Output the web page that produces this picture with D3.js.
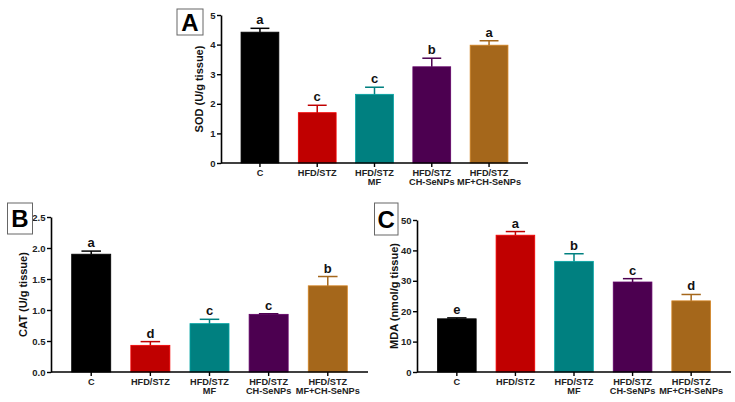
<!DOCTYPE html>
<html>
<head>
<meta charset="utf-8">
<script src="https://cdn.jsdelivr.net/npm/d3@7"></script>
<style>
  body { margin: 0; background: #fff; }
  svg { display: block; font-family: "Liberation Sans", Arial, sans-serif; font-weight: bold; }
</style>
</head>
<body>
<svg width="735" height="402"></svg>
<script>
// group names (two lines each)
const groups = [["C"], ["HFD/STZ"], ["HFD/STZ", "MF"], ["HFD/STZ", "CH-SeNPs"], ["HFD/STZ", "MF+CH-SeNPs"]];
const colors = ["#000000", "#c00000", "#008080", "#4c0050", "#a5671b"];

// Panel A: SOD
const sodValues = [4.42, 1.70, 2.32, 3.25, 3.98];
const sodErrors = [0.13, 0.25, 0.24, 0.29, 0.15];
const sodLetters = ["a", "c", "c", "b", "a"];
const sodTicks = [0, 1, 2, 3, 4, 5];

// Panel B: CAT
const catValues = [1.90, 0.43, 0.78, 0.93, 1.39];
const catErrors = [0.05, 0.06, 0.07, 0.01, 0.15];
const catLetters = ["a", "d", "c", "c", "b"];
const catTicks = [0, 0.5, 1.0, 1.5, 2.0, 2.5];

// Panel C: MDA
const mdaValues = [17.5, 45.0, 36.4, 29.6, 23.4];
const mdaErrors = [0.3, 1.2, 2.5, 1.1, 2.1];
const mdaLetters = ["e", "a", "b", "c", "d"];
const mdaTicks = [0, 10, 20, 30, 40, 50];

const svg = d3.select("svg");

function drawPanel(p) {
  const g = svg.append("g");
  const idx = d3.range(groups.length);

  const x = d3.scaleBand()
    .domain(idx)
    .range([p.left, p.right])
    .paddingInner(0.34)
    .paddingOuter(0.35);

  const y = d3.scaleLinear()
    .domain([0, p.ticks[p.ticks.length - 1]])
    .range([p.bottom, p.top]);

  // bars
  g.selectAll("rect.bar")
    .data(idx)
    .enter()
    .append("rect")
    .attr("x", (i) => x(i))
    .attr("y", (i) => y(p.values[i]))
    .attr("width", x.bandwidth())
    .attr("height", (i) => y(0) - y(p.values[i]))
    .attr("fill", (i) => colors[i])
    .attr("stroke", (i) => d3.color(colors[i]).brighter(0.7))
    .attr("stroke-width", 0.8);

  // error bars (upper half only)
  const err = g.append("g").attr("stroke-width", 1.5);
  err.selectAll("line.v")
    .data(idx)
    .enter()
    .append("line")
    .attr("x1", (i) => x(i) + x.bandwidth() / 2)
    .attr("x2", (i) => x(i) + x.bandwidth() / 2)
    .attr("y1", (i) => y(p.values[i]))
    .attr("y2", (i) => y(p.values[i] + p.errors[i]))
    .attr("stroke", (i) => colors[i]);
  err.selectAll("line.cap")
    .data(idx)
    .enter()
    .append("line")
    .attr("x1", (i) => x(i) + x.bandwidth() * 0.25)
    .attr("x2", (i) => x(i) + x.bandwidth() * 0.75)
    .attr("y1", (i) => y(p.values[i] + p.errors[i]))
    .attr("y2", (i) => y(p.values[i] + p.errors[i]))
    .attr("stroke", (i) => colors[i]);

  // significance letters
  g.selectAll("text.sig")
    .data(idx)
    .enter()
    .append("text")
    .attr("x", (i) => x(i) + x.bandwidth() / 2)
    .attr("y", (i) => y(p.values[i] + p.errors[i]) - 4)
    .attr("text-anchor", "middle")
    .attr("font-size", 13)
    .attr("fill", "#111")
    .text((i) => p.letters[i]);

  // y axis
  const yAxis = g.append("g")
    .attr("transform", `translate(${p.left},0)`)
    .call(d3.axisLeft(y).tickValues(p.ticks).tickFormat(d3.format(p.fmt)).tickSize(4).tickSizeOuter(0).tickPadding(1.5));
  yAxis.select(".domain").attr("stroke-width", 1.6);
  yAxis.selectAll(".tick line").attr("stroke-width", 1.4);
  yAxis.selectAll(".tick text").attr("font-size", 9.5).attr("font-family", null).attr("fill", "#222");

  // x axis
  const xAxis = g.append("g")
    .attr("transform", `translate(0,${p.bottom})`)
    .call(d3.axisBottom(x).tickSize(4).tickSizeOuter(0).tickFormat(""));
  xAxis.select(".domain").attr("stroke-width", 1.6)
    .attr("d", `M${p.left},0H${p.right}`);
  xAxis.selectAll(".tick line").attr("stroke-width", 1.4);

  // category labels
  const lab = g.selectAll("text.cat")
    .data(idx)
    .enter()
    .append("text")
    .attr("text-anchor", "middle")
    .attr("font-size", 9.2)
    .attr("fill", "#222")
    .attr("x", (i) => x(i) + x.bandwidth() / 2)
    .attr("y", p.bottom + 13);
  lab.selectAll("tspan")
    .data((i) => groups[i].map((t) => ({ t, x: x(i) + x.bandwidth() / 2 })))
    .enter()
    .append("tspan")
    .attr("x", (d) => d.x)
    .attr("dy", (d, j) => (j === 0 ? 0 : 9))
    .text((d) => d.t);

  // y axis title
  g.append("text")
    .attr("transform", `translate(${p.titleX},${(p.top + p.bottom) / 2}) rotate(-90)`)
    .attr("text-anchor", "middle")
    .attr("font-size", 11)
    .attr("fill", "#111")
    .text(p.title);

  // panel label box
  g.append("rect")
    .attr("x", p.box[0])
    .attr("y", p.box[1])
    .attr("width", p.box[2])
    .attr("height", p.box[3])
    .attr("fill", "#fff")
    .attr("stroke", "#666")
    .attr("stroke-width", 1);
  g.append("text")
    .attr("x", p.box[0] + p.box[2] / 2)
    .attr("y", p.box[1] + p.box[3] / 2 + 8.5)
    .attr("text-anchor", "middle")
    .attr("font-size", 24)
    .attr("fill", "#000")
    .text(p.name);
}

drawPanel({
  name: "A", title: "SOD (U/g tissue)",
  values: sodValues, errors: sodErrors, letters: sodLetters, ticks: sodTicks, fmt: "d",
  left: 221, right: 528, top: 15, bottom: 163, titleX: 203, box: [177, 9, 26, 26],
});
drawPanel({
  name: "B", title: "CAT (U/g tissue)",
  values: catValues, errors: catErrors, letters: catLetters, ticks: catTicks, fmt: ".1f",
  left: 51, right: 368, top: 217, bottom: 372, titleX: 27, box: [7.5, 203, 25, 31],
});
drawPanel({
  name: "C", title: "MDA (nmol/g tissue)",
  values: mdaValues, errors: mdaErrors, letters: mdaLetters, ticks: mdaTicks, fmt: "d",
  left: 417, right: 731, top: 220, bottom: 372, titleX: 397.5, box: [374.5, 203, 23.5, 32],
});
</script>
</body>
</html>
